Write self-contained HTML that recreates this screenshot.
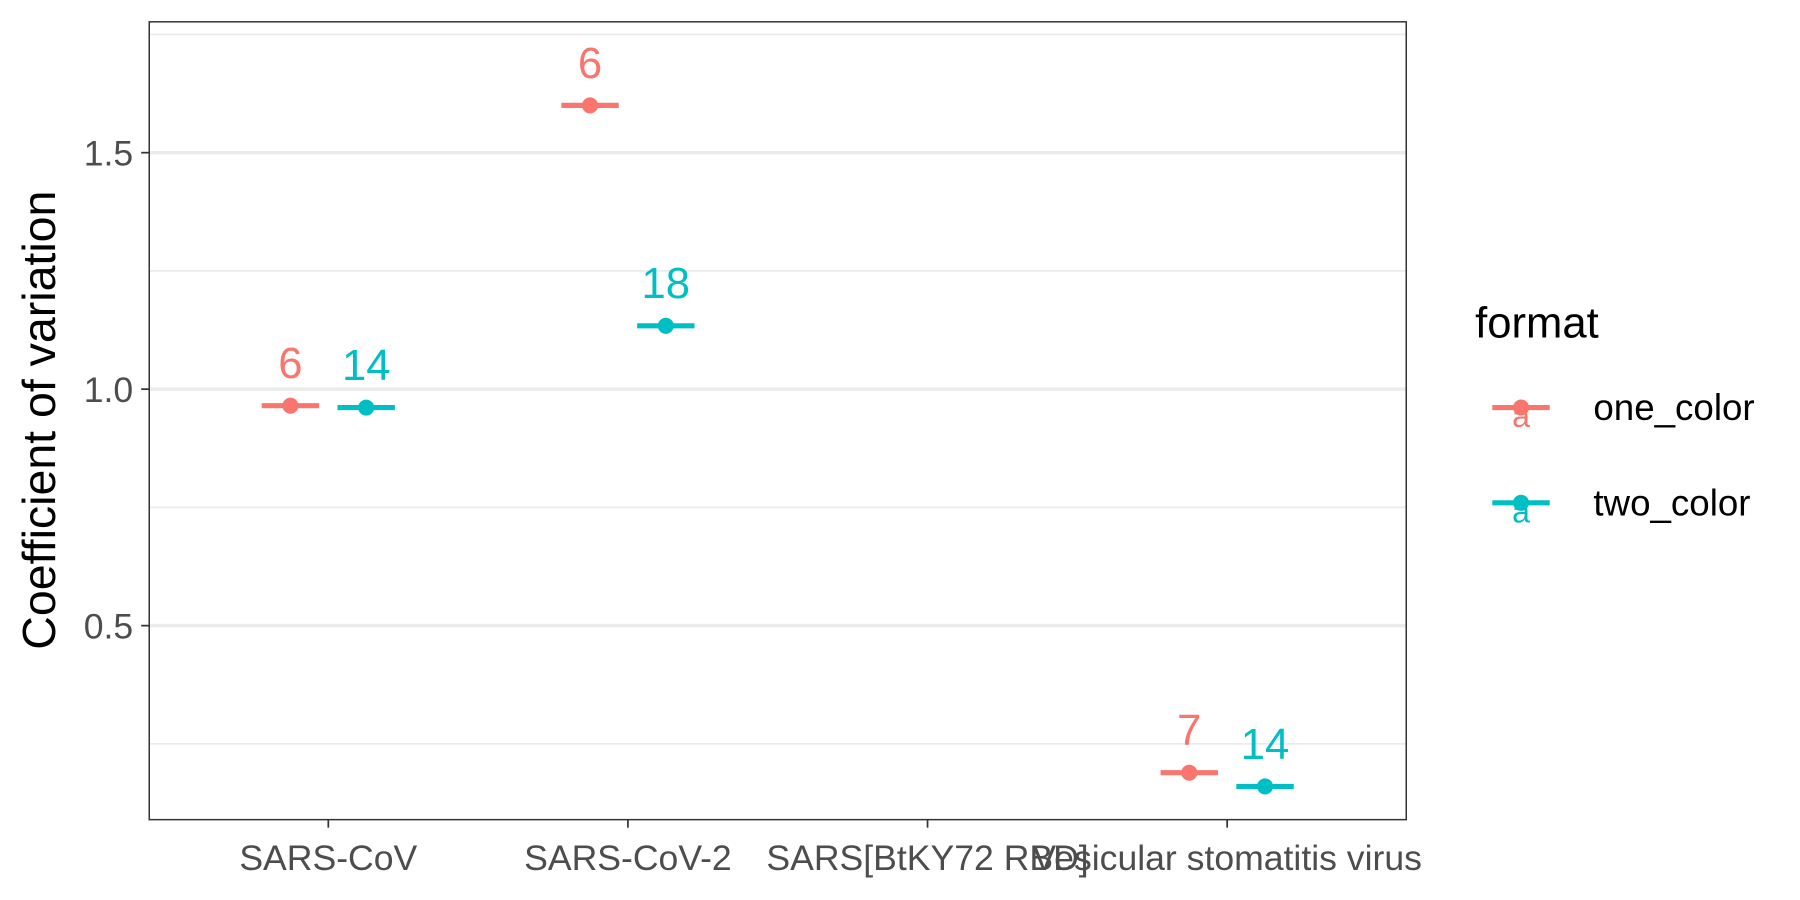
<!DOCTYPE html>
<html><head><meta charset="utf-8"><style>
html,body{margin:0;padding:0;background:#fff;}
svg{display:block;font-family:"Liberation Sans",Arial,sans-serif;}
</style></head><body>
<svg id="chart" width="1800" height="900" viewBox="0 0 1568 784" xmlns="http://www.w3.org/2000/svg">
<rect x="0" y="0" width="1568" height="784" fill="#fff"/>
<g id="grid"></g>
<g id="marks"></g>
<rect x="130" y="19" width="1095" height="695" fill="none" stroke="#333" stroke-width="1.3"/>
<g id="axes"></g>
<text transform="translate(48,366) rotate(-90)" text-anchor="middle" font-size="40.5" fill="#000">Coefficient of variation</text>
<g>
<text x="1285" y="294" font-size="38" fill="#000">format</text>
<g id="legend-items"></g>
</g>
</svg>
<script>
const categories = ["SARS-CoV","SARS-CoV-2","SARS[BtKY72 RBD]","Vesicular stomatitis virus"];
const series = ["one_color","two_color"];
const oneColorValues = [0.965, 1.60, null, 0.189];
const twoColorValues = [0.961, 1.134, null, 0.160];
const oneColorLabels = ["6","6",null,"7"];
const twoColorLabels = ["14","18",null,"14"];
const yTicks = [0.5, 1.0, 1.5];
const yTickLabels = ["0.5","1.0","1.5"];
const yMinor = [0.25, 0.75, 1.25, 1.75];

const colors = ["#F8766D","#00BFC4"];
const NS="http://www.w3.org/2000/svg";
function yScale(v){ return 339 - (v-1.0)*412; }
function xScale(i){ return 286 + i*261; }
function mk(tag, attrs, parent, txt){
  const e=document.createElementNS(NS,tag);
  for(const k in attrs) e.setAttribute(k,attrs[k]);
  if(txt!==undefined) e.textContent=txt;
  parent.appendChild(e); return e;
}
const grid=document.getElementById('grid'), marks=document.getElementById('marks'), axes=document.getElementById('axes');
yMinor.forEach(v=>{
  const l=mk('line',{x1:130,x2:1225,y1:yScale(v),y2:yScale(v),stroke:'#ebebeb','stroke-width':1.5},grid);
  
  
});
yTicks.forEach((v,i)=>{
  const y=yScale(v);
  const l=mk('line',{x1:130,x2:1225,y1:y,y2:y,stroke:'#ebebeb','stroke-width':3},grid);
  
  
  const t=mk('line',{x1:123,x2:130,y1:y,y2:y,stroke:'#333','stroke-width':1.5},axes);
  
  
  const tx=mk('text',{x:116,y:y+11,'text-anchor':'end','font-size':31,fill:'#4d4d4d'},axes,yTickLabels[i]);
  
  
});
categories.forEach((c,i)=>{
  const x=xScale(i);
  const t=mk('line',{x1:x,x2:x,y1:714,y2:721,stroke:'#333','stroke-width':1.5},axes);
  
  
  const tx=mk('text',{x:x,y:758,'text-anchor':'middle','font-size':31,fill:'#4d4d4d'},axes,c);
  
  
});
const allVals=[oneColorValues,twoColorValues], allLabels=[oneColorLabels,twoColorLabels];
allVals.forEach((vals,s)=>{
  vals.forEach((v,i)=>{
    if(v===null) return;
    const x=xScale(i)+(s===0?-33:33), y=yScale(v);
    const seg=mk('line',{x1:x-25,x2:x+25,y1:y,y2:y,stroke:colors[s],'stroke-width':4.5},marks);
    
    
    const pt=mk('circle',{cx:x,cy:y,r:7,fill:colors[s]},marks);
    
    
    const lb=mk('text',{x:x,y:y-24,'text-anchor':'middle','font-size':38,fill:colors[s]},marks,allLabels[s][i]);
    
    
  });
});
const li=document.getElementById('legend-items');
series.forEach((name,s)=>{
  const y=355+s*83;
  const g=mk('g',{},li);
  
  
  mk('line',{x1:1300,x2:1350,y1:y,y2:y,stroke:colors[s],'stroke-width':4.5},g);
  mk('circle',{cx:1325,cy:y,r:7,fill:colors[s]},g);
  mk('text',{x:1325,y:y+17,'text-anchor':'middle','font-size':28,fill:colors[s]},g,'a');
  mk('text',{x:1388,y:y+11,'font-size':32,fill:'#000'},g,name);
});
</script>
</body></html>
